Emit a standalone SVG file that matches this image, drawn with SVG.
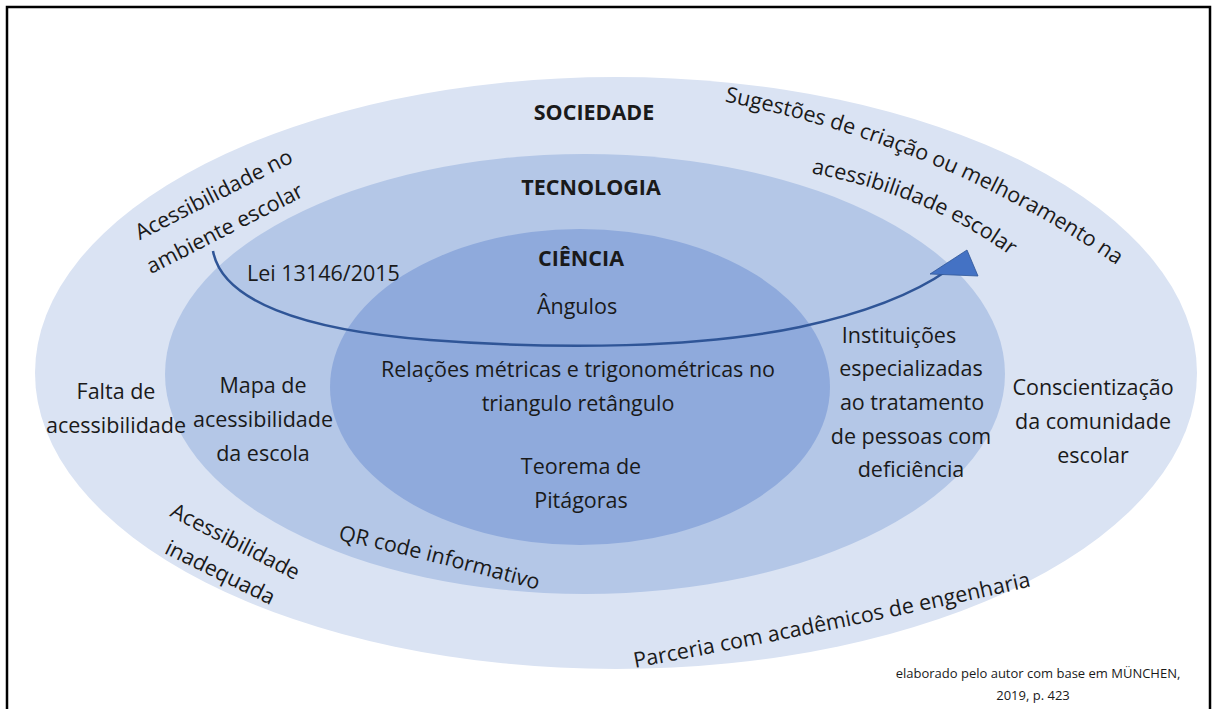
<svg xmlns="http://www.w3.org/2000/svg" xmlns:xlink="http://www.w3.org/1999/xlink" width="1212" height="709" viewBox="0 0 1212 709">
<style>
text{font-family:"Open Sans","Noto Sans","DejaVu Sans",sans-serif;fill:#1a1a1a;font-size:21.5px}
.c{text-anchor:middle}
.b{font-weight:bold;font-size:21.5px}
.s{font-size:13px}
</style>
<defs>
<path id="p-sug1" d="M716,100 Q940,142 1124,270"/>
<path id="p-sug2" d="M804,172 Q930,194 1016,260"/>
<path id="p-qr" d="M330,538 Q440,562 545,592"/>
<path id="p-par" d="M624,670 Q850,628 1042,584"/>
</defs>
<rect x="0" y="0" width="1212" height="709" fill="#ffffff"/>
<rect id="frame" x="7" y="7" width="1203" height="760" fill="none" stroke="#000" stroke-width="2.5"/>
<g id="sociedade">
<ellipse cx="616" cy="373" rx="581" ry="296" fill="#dae3f3"/>
</g>
<g id="tecnologia">
<ellipse cx="585" cy="374" rx="420" ry="220" fill="#b4c7e7"/>
</g>
<g id="ciencia">
<ellipse cx="580" cy="387" rx="250" ry="158" fill="#8faadc"/>
</g>
<g id="connectors">
<path d="M213,251 C222,300 300,330 430,340 C560,350 700,348 800,327 C870,312 915,293 948,270" fill="none" stroke="#2f5597" stroke-width="2.5"/>
<polygon points="930,274 967,250 978,276" fill="#4472c4" stroke="#2f5597" stroke-width="0.8"/>
</g>
<g id="labels-sociedade">
<text class="c b" x="594" y="120">SOCIEDADE</text>
<g transform="translate(217,201) rotate(-27)"><text class="c" x="0" y="0">Acessibilidade no</text></g>
<g transform="translate(228,235) rotate(-27)"><text class="c" x="0" y="0">ambiente escolar</text></g>
<text><textPath xlink:href="#p-sug1" startOffset="50%" text-anchor="middle">Sugestões de criação ou melhoramento na</textPath></text>
<text><textPath xlink:href="#p-sug2" startOffset="50%" text-anchor="middle">acessibilidade escolar</textPath></text>
<text class="c" x="116" y="399">Falta de</text>
<text class="c" x="116" y="433">acessibilidade</text>
<text class="c" x="1093" y="395">Conscientização</text>
<text class="c" x="1093" y="429">da comunidade</text>
<text class="c" x="1093" y="463">escolar</text>
<g transform="translate(232,548) rotate(27)"><text class="c" x="0" y="0">Acessibilidade</text></g>
<g transform="translate(217,579) rotate(26)"><text class="c" x="0" y="0">inadequada</text></g>
<text><textPath xlink:href="#p-par" startOffset="50%" text-anchor="middle">Parceria com acadêmicos de engenharia</textPath></text>
</g>
<g id="labels-tecnologia">
<text class="c b" x="591" y="195">TECNOLOGIA</text>
<text x="247" y="281">Lei 13146/2015</text>
<text class="c" x="263" y="393">Mapa de</text>
<text class="c" x="263" y="427">acessibilidade</text>
<text class="c" x="263" y="461">da escola</text>
<text class="c" x="899" y="343">Instituições</text>
<text class="c" x="911" y="376">especializadas</text>
<text class="c" x="912" y="410">ao tratamento</text>
<text class="c" x="911" y="444">de pessoas com</text>
<text class="c" x="911" y="477">deficiência</text>
<text><textPath xlink:href="#p-qr" startOffset="50%" text-anchor="middle">QR code informativo</textPath></text>
</g>
<g id="labels-ciencia">
<text class="c b" x="581" y="266">CIÊNCIA</text>
<text class="c" x="577" y="314">Ângulos</text>
<text class="c" x="578" y="377">Relações métricas e trigonométricas no</text>
<text class="c" x="578" y="411">triangulo retângulo</text>
<text class="c" x="581" y="474">Teorema de</text>
<text class="c" x="581" y="508">Pitágoras</text>
</g>
<g id="source">
<text class="c s" x="1038" y="678">elaborado pelo autor com base em MÜNCHEN,</text>
<text class="c s" x="1033" y="700">2019, p. 423</text>
</g>
</svg>
